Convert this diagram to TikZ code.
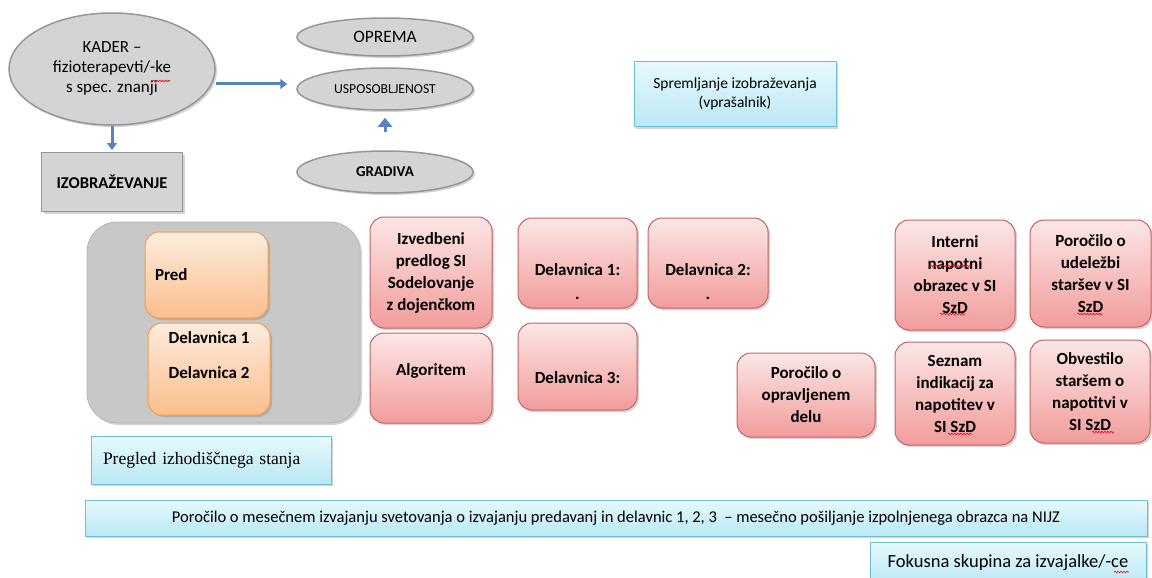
\documentclass[tikz,border=0pt]{standalone}
\usepackage{fontspec}
\setmainfont{Carlito}
\newfontfamily\pregledfont{Liberation Serif}
\usetikzlibrary{shapes.geometric,shadows,arrows.meta,decorations.pathmorphing}

\definecolor{ovalfill}{RGB}{212,212,212}
\definecolor{ovaldraw}{RGB}{150,150,150}
\definecolor{panelfill}{RGB}{200,200,200}
\definecolor{pinktop}{RGB}{252,230,230}
\definecolor{pinkbot}{RGB}{242,156,156}
\definecolor{pinkdraw}{RGB}{196,100,100}
\definecolor{orangetop}{RGB}{253,236,222}
\definecolor{orangebot}{RGB}{250,190,140}
\definecolor{orangedraw}{RGB}{238,160,80}
\definecolor{cyantop}{RGB}{232,249,253}
\definecolor{cyanbot}{RGB}{185,232,244}
\definecolor{cyandraw}{RGB}{110,190,215}
\definecolor{arrowblue}{RGB}{86,132,190}

\tikzset{every picture/.style={line width=0.75pt}}
\tikzset{
  softshadow/.style={drop shadow={shadow xshift=2pt,shadow yshift=-2pt,opacity=0.35}},
  oval/.style={ellipse,draw=ovaldraw,line width=1.5pt,fill=ovalfill,inner sep=0pt,softshadow},
  graybox/.style={draw=ovaldraw,line width=1pt,fill=ovalfill,inner sep=0pt,softshadow},
  panel/.style={draw=panelfill!90!black,fill=panelfill,rounded corners=30pt,softshadow},
  orangebox/.style={draw=orangedraw,line width=1pt,top color=orangetop,bottom color=orangebot,
    rounded corners=14pt,inner sep=0pt,softshadow,font=\fontsize{17}{22}\selectfont\bfseries},
  pinkbox/.style={draw=pinkdraw,line width=1pt,top color=pinktop,bottom color=pinkbot,
    rounded corners=14pt,inner sep=0pt,align=center,softshadow,font=\fontsize{17}{22}\selectfont\bfseries},
  cyanbox/.style={draw=cyandraw,line width=1pt,top color=cyantop,bottom color=cyanbot,
    inner sep=0pt,softshadow},
  bluearrow/.style={draw=arrowblue,line width=3pt,-{Triangle[length=7pt,width=10pt]}},
  spellwave/.style={draw=red,line width=0.6pt,decorate,decoration={snake,amplitude=0.8pt,segment length=3pt}},
}

\begin{document}
\begin{tikzpicture}[x=1pt,y=1pt,yscale=-1,xscale=1]
\clip (0,0) rectangle (1152,578);

%Shape: Ellipse [kader]
\node[oval,minimum width=206,minimum height=112,align=center,font=\fontsize{17}{20}\selectfont] (kader) at (112,69)
  {KADER --\\fizioterapevti/-ke\\s spec. znanji};
%Shape: Rectangle [izobrazevanje]
\node[graybox,minimum width=141,minimum height=59,font=\fontsize{16.5}{18}\selectfont\bfseries] (izo) at (112,182) {IZOBRAŽEVANJE};

%Shape: Ellipse [oprema, usposobljenost, gradiva]
\node[oval,minimum width=176,minimum height=38,font=\fontsize{17.4}{19}\selectfont] (opr) at (385,37) {OPREMA};
\node[oval,minimum width=176,minimum height=42,font=\fontsize{13.7}{15}\selectfont] (usp) at (385,89) {USPOSOBLJENOST};
\node[oval,minimum width=176,minimum height=42,font=\fontsize{15}{17}\selectfont\bfseries] (grad) at (385,172) {GRADIVA};

%Shape: Rectangle [spremljanje]
\node[cyanbox,minimum width=202,minimum height=65,align=center,font=\fontsize{15.5}{19}\selectfont] (sprem) at (735,94)
  {Spremljanje izobraževanja\\(vprašalnik)};

%Straight Lines
\draw[bluearrow] (kader.east |- 0,84) -- ([xshift=-9pt]usp.west |- 0,84);
\draw[bluearrow,shorten >=2pt] (kader.south) -- (izo.north);
\draw[bluearrow,line width=3pt,-{Triangle[length=9pt,width=14pt]},shorten <=18pt,shorten >=7pt] (grad.north) -- (usp.south);

%Shape: Rounded Rectangle [panel]
\node[panel,minimum width=273,minimum height=201] (panel) at (223.5,322.5) {};
\node[orangebox,minimum width=123,minimum height=86,text width=103,align=left] (pred) at (206.5,275) {Pred};
\node[orangebox,minimum width=122,minimum height=92,align=center] (delav) at (209,369)
  {Delavnica 1\\[13pt]Delavnica 2\\[5pt]\mbox{}};

%Shape: Rounded Rectangle [pink boxes]
\node[pinkbox,minimum width=122,minimum height=111] (izv) at (431,272.5)
  {Izvedbeni\\predlog SI\\Sodelovanje\\z dojenčkom};
\node[pinkbox,minimum width=122,minimum height=90] (alg) at (431,378) {Algoritem\\[-6pt]\mbox{}};
\node[pinkbox,minimum width=119,minimum height=90] (del1) at (577.5,263) {\mbox{}\\[28pt]Delavnica 1:\\[2pt].};
\node[pinkbox,minimum width=120,minimum height=90] (del2) at (708,263) {\mbox{}\\[28pt]Delavnica 2:\\[2pt].};
\node[pinkbox,minimum width=119,minimum height=87] (del3) at (577.5,366.5) {\mbox{}\\[12pt]Delavnica 3:};
\node[pinkbox,minimum width=138,minimum height=84] (porod) at (806,395)
  {Poročilo o\\opravljenem\\delu};
\node[pinkbox,minimum width=120,minimum height=110] (intern) at (955,275)
  {Interni\\napotni\\obrazec v SI\\SzD};
\node[pinkbox,minimum width=121,minimum height=107] (udel) at (1090.5,273.5)
  {Poročilo o\\udeležbi\\staršev v SI\\SzD};
\node[pinkbox,minimum width=120,minimum height=103] (sez) at (955,393.5)
  {Seznam\\indikacij za\\napotitev v\\SI SzD};
\node[pinkbox,minimum width=120,minimum height=103] (obv) at (1090,391.5)
  {Obvestilo\\staršem o\\napotitvi v\\SI SzD};

%Shape: Rectangle [cyan bars]
\node[cyanbox,minimum width=240,minimum height=48,text width=216,align=left,font=\pregledfont\fontsize{17.5}{20}\selectfont] (pregled) at (211,460)
  {Pregled izhodiščnega stanja};
\node[cyanbox,minimum width=1062,minimum height=36,font=\fontsize{16.5}{19}\selectfont] (mesec) at (616,518)
  {Poročilo o mesečnem izvajanju svetovanja o izvajanju predavanj in delavnic 1, 2, 3~ -- mesečno pošiljanje izpolnjenega obrazca na NIJZ};
\node[cyanbox,minimum width=276,minimum height=42,font=\fontsize{18.5}{20}\selectfont] (fokus) at (1008,563)
  {Fokusna skupina za izvajalke/-ce};

%Spelling marks
\draw[spellwave] ([shift={(41,12)}]kader.center) -- ++(17,0);
\draw[spellwave] ([shift={(-25,-9)}]intern.center) -- ++(42,0);
\draw[spellwave] ([shift={(-15,39)}]intern.center) -- ++(25,0);
\draw[spellwave] ([shift={(-13,40.5)}]udel.center) -- ++(25,0);
\draw[spellwave] ([shift={(-7,40.5)}]sez.center) -- ++(24,0);
\draw[spellwave] ([shift={(2,40.5)}]obv.center) -- ++(22,0);
\draw[spellwave] ([shift={(106,9)}]fokus.center) -- ++(15,0);
\end{tikzpicture}
\end{document}
